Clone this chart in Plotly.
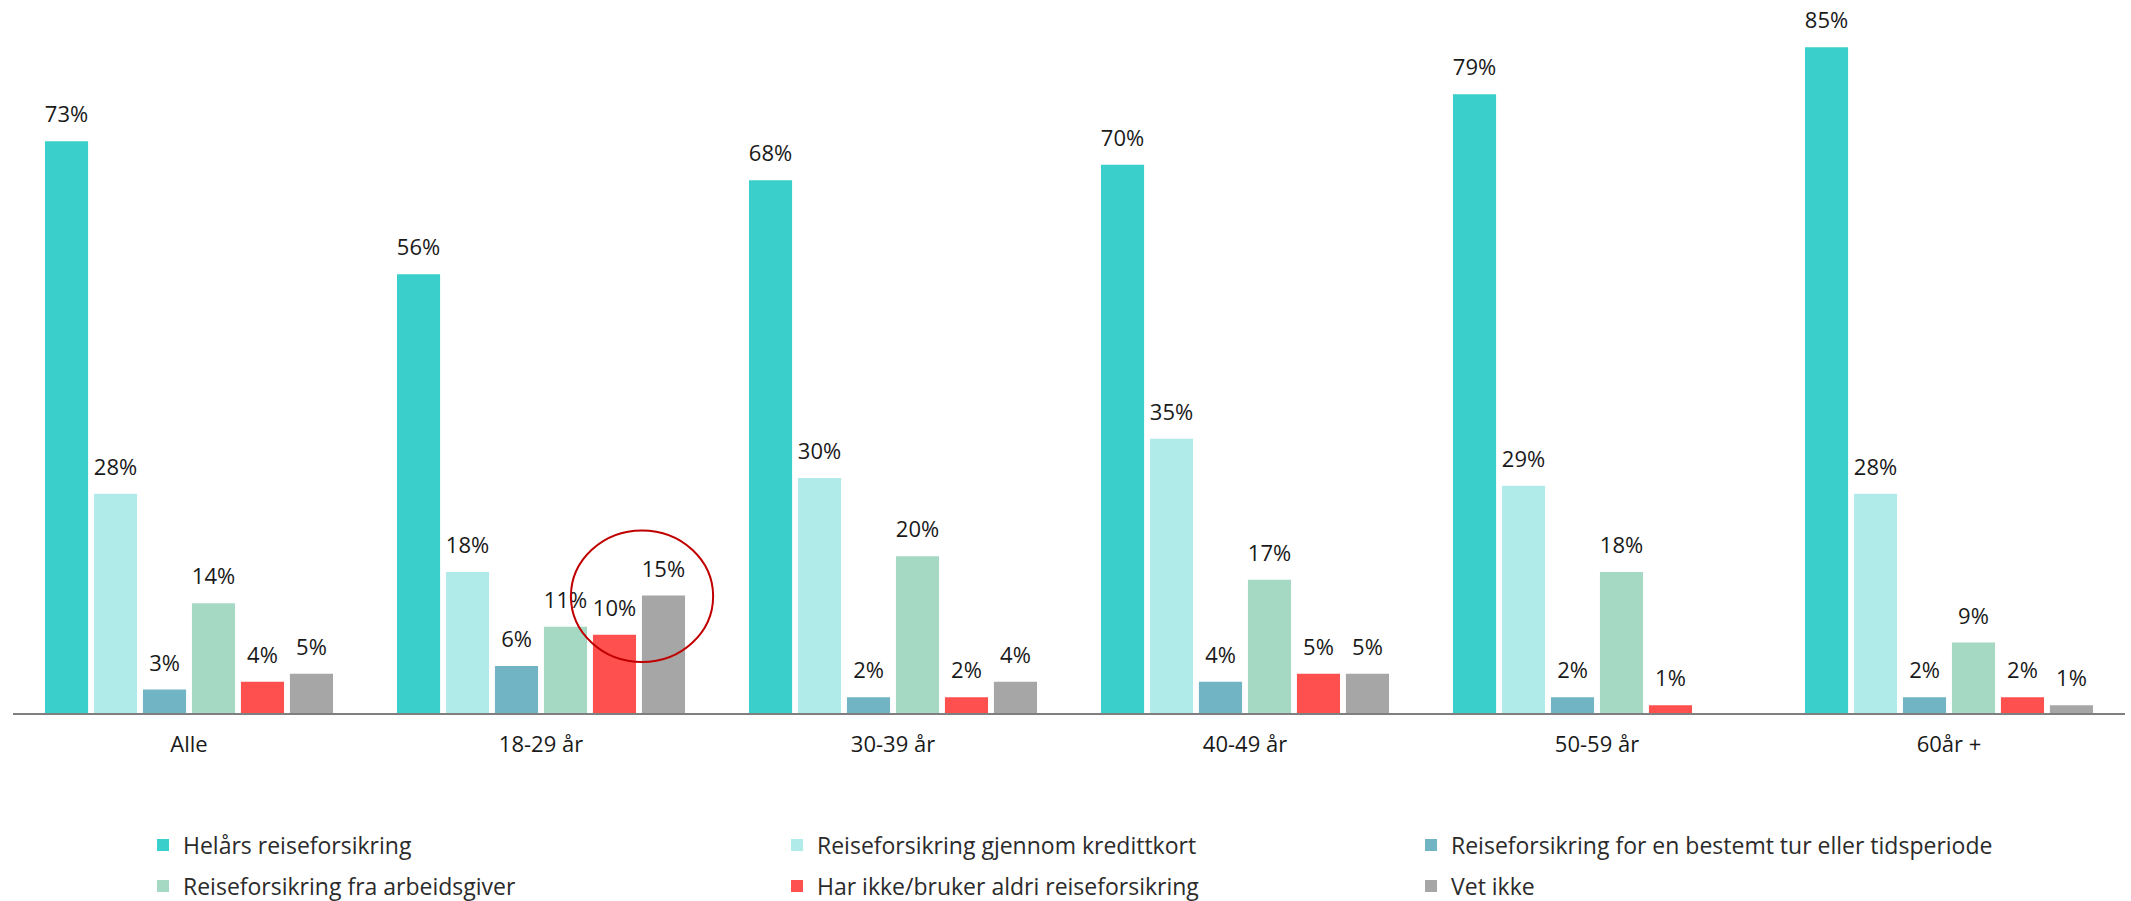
import plotly.graph_objects as go

categories = ["Alle", "18-29 år", "30-39 år", "40-49 år", "50-59 år", "60år +"]
series_names = [
    "Helårs reiseforsikring",
    "Reiseforsikring gjennom kredittkort",
    "Reiseforsikring for en bestemt tur eller tidsperiode",
    "Reiseforsikring fra arbeidsgiver",
    "Har ikke/bruker aldri reiseforsikring",
    "Vet ikke",
]
helars = [73, 56, 68, 70, 79, 85]
kredittkort = [28, 18, 30, 35, 29, 28]
bestemt_tur = [3, 6, 2, 4, 2, 2]
arbeidsgiver = [14, 11, 20, 17, 18, 9]
har_ikke = [4, 10, 2, 5, 1, 2]
vet_ikke = [5, 15, 4, 5, None, 1]
series_values = [helars, kredittkort, bestemt_tur, arbeidsgiver, har_ikke, vet_ikke]
colors = ["#3ACFCB", "#B0EBEA", "#71B4C3", "#A6D9C4", "#FF5050", "#A6A6A6"]

FONT = "Open Sans"
W, H = 2131, 901
ML, MR, MT, MB = 13, 6, 8, 188

fig = go.Figure()
for i, (name, vals, col) in enumerate(zip(series_names, series_values, colors)):
    fig.add_trace(go.Bar(
        x=categories, y=vals, name=name, marker_color=col,
        marker_line_width=0, offsetgroup=str(i),
        legend="legend" if i < 3 else "legend2",
        hoverinfo="skip",
    ))
for i, vals in enumerate(series_values):
    fig.add_trace(go.Scatter(
        x=categories, y=vals, mode="markers+text",
        text=[f"{v}%" if v is not None else "" for v in vals],
        textposition="top center",
        textfont=dict(family=FONT, size=22, color="#1A1A1A"),
        marker=dict(size=20, opacity=0),
        offsetgroup=str(i), showlegend=False, hoverinfo="skip",
        cliponaxis=False,
    ))

# highlight circle around the 18-29 "Har ikke" / "Vet ikke" bars
fig.add_shape(type="circle", xref="x", yref="y",
              x0=1.085, x1=1.489, y0=6.5, y1=23.3,
              line=dict(color="#C00000", width=2))

plot_w = W - ML - MR
plot_h = H - MT - MB
leg_x = (155 - 12 - ML) / plot_w
leg_common = dict(orientation="h", xanchor="left", yanchor="middle",
                  entrywidth=589, entrywidthmode="pixels",
                  font=dict(family=FONT, size=23, color="#2B2B2B"))
fig.update_layout(
    width=W, height=H,
    margin=dict(l=ML, r=MR, t=MT, b=MB, autoexpand=False),
    paper_bgcolor="white", plot_bgcolor="white",
    barmode="group", bargap=0.165, bargroupgap=0.12,
    scattermode="group",
    font=dict(family=FONT, color="#1A1A1A"),
    xaxis=dict(showline=True, linecolor="#7F7F7F", linewidth=1.5,
               ticks="", showgrid=False, zeroline=False, ticklabelstandoff=11,
               tickfont=dict(family=FONT, size=22, color="#1A1A1A")),
    yaxis=dict(range=[0, 90], visible=False, showgrid=False, zeroline=False),
    legend=dict(x=leg_x, y=-(845 - (H - MB)) / plot_h, **leg_common),
    legend2=dict(x=leg_x, y=-(886 - (H - MB)) / plot_h, **leg_common),
    hovermode=False,
)
fig.write_html("out.html",
               config={"displayModeBar": False},
               post_script="document.body.style.margin='0';document.body.style.overflow='hidden';")
